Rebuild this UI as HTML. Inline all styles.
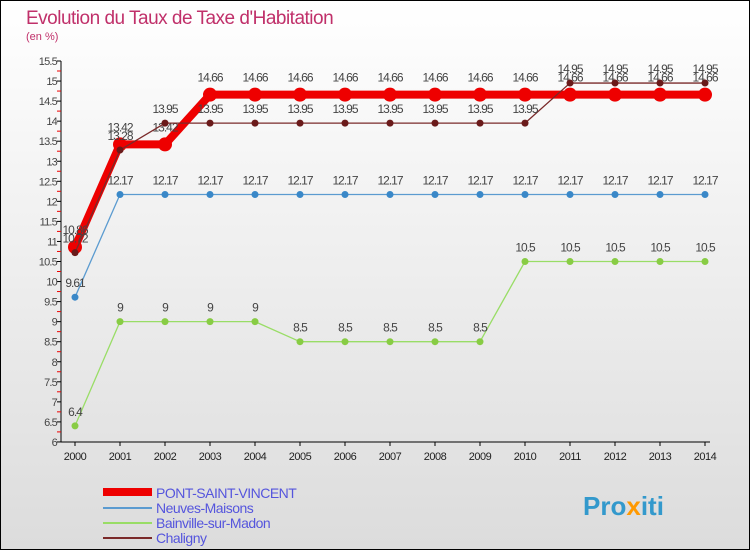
<!DOCTYPE html>
<html><head><meta charset="utf-8"><style>
body{margin:0;}
svg text{font-family:"Liberation Sans",sans-serif;}
</style></head><body>
<svg width="750" height="550" xmlns="http://www.w3.org/2000/svg">
<defs><linearGradient id="bg" x1="0" y1="0" x2="0" y2="1"><stop offset="0" stop-color="#ffffff"/><stop offset="1" stop-color="#dcdcdc"/></linearGradient></defs>
<rect x="0.5" y="0.5" width="749" height="549" fill="url(#bg)" stroke="#000"/>
<text x="26" y="24" font-size="19" fill="#c0306a" letter-spacing="-0.5">Evolution du Taux de Taxe d'Habitation</text>
<text x="26" y="40" font-size="11" fill="#c0306a">(en %)</text>
<g id="axes"></g><g id="series"></g>
<g>
<line x1="103" y1="492" x2="152" y2="492" stroke="#ee0000" stroke-width="8"/>
<text x="156" y="498" font-size="14" fill="#5555dd" letter-spacing="-0.5">PONT-SAINT-VINCENT</text>
<line x1="103" y1="508" x2="152" y2="508" stroke="#5b9bd0" stroke-width="2"/>
<text x="156" y="513" font-size="14" fill="#5555dd" letter-spacing="-0.5">Neuves-Maisons</text>
<line x1="103" y1="523" x2="152" y2="523" stroke="#99dd66" stroke-width="2"/>
<text x="156" y="528" font-size="14" fill="#5555dd" letter-spacing="-0.5">Bainville-sur-Madon</text>
<line x1="103" y1="538" x2="152" y2="538" stroke="#7a2a2a" stroke-width="2"/>
<text x="156" y="543" font-size="14" fill="#5555dd" letter-spacing="-0.5">Chaligny</text>
</g>
<text x="583" y="515" font-size="26" font-weight="bold" fill="#3399cc">Pro<tspan fill="#ff9900">x</tspan>iti</text>
</svg>
<script>
const years=[2000,2001,2002,2003,2004,2005,2006,2007,2008,2009,2010,2011,2012,2013,2014];
const yTicks=[6,6.5,7,7.5,8,8.5,9,9.5,10,10.5,11,11.5,12,12.5,13,13.5,14,14.5,15,15.5];
const psv=[10.86,13.42,13.42,14.66,14.66,14.66,14.66,14.66,14.66,14.66,14.66,14.66,14.66,14.66,14.66];
const neuves=[9.61,12.17,12.17,12.17,12.17,12.17,12.17,12.17,12.17,12.17,12.17,12.17,12.17,12.17,12.17];
const bainville=[6.4,9,9,9,9,8.5,8.5,8.5,8.5,8.5,10.5,10.5,10.5,10.5,10.5];
const chaligny=[10.72,13.28,13.95,13.95,13.95,13.95,13.95,13.95,13.95,13.95,13.95,14.95,14.95,14.95,14.95];
const NS="http://www.w3.org/2000/svg";
function X(i){return 75+i*45;}
function Y(v){return 61+(15.5-v)*40.1;}
function mk(t,a,p){const e=document.createElementNS(NS,t);for(const k in a)e.setAttribute(k,a[k]);p.appendChild(e);return e;}
const ax=document.getElementById('axes');
let l=mk('line',{x1:61,y1:Y(15.5),x2:61,y2:Y(6),stroke:'#000'},ax);


l=mk('line',{x1:61,y1:Y(6),x2:710,y2:Y(6),stroke:'#000'},ax);


yTicks.forEach(v=>{
 mk('line',{x1:57,y1:Y(v),x2:61,y2:Y(v),stroke:'#000'},ax);
 if(v>6) mk('line',{x1:57,y1:Y(v)+10,x2:61,y2:Y(v)+10,stroke:'#e00'},ax);
 const t=mk('text',{x:57,y:Y(v)+4,'font-size':11,fill:'#444','text-anchor':'end','letter-spacing':'-0.8'},ax);
 t.textContent=String(v);
 
 
});
years.forEach((y,i)=>{
 mk('line',{x1:X(i),y1:Y(6),x2:X(i),y2:Y(6)+4,stroke:'#000'},ax);
 const t=mk('text',{x:X(i),y:Y(6)+18,'font-size':11,fill:'#222','text-anchor':'middle','letter-spacing':'-0.5'},ax);
 t.textContent=String(y);
 
 
});
const sg=document.getElementById('series');
function series(name,vals,col,w,r,dot,off){
 const g=mk('g',{},sg);
 
 
 const ln=mk('polyline',{points:vals.map((v,i)=>X(i)+','+Y(v)).join(' '),fill:'none',stroke:col,'stroke-width':w,'stroke-linejoin':'round'},g);
 
 
 vals.forEach((v,i)=>{
  const c=mk('circle',{cx:X(i),cy:Y(v),r:r,fill:dot},g);
  
  
  const t=mk('text',{x:X(i),y:Y(v)-off,'font-size':12,fill:'#444','text-anchor':'middle','letter-spacing':'-1'},g);
  t.textContent=String(v);
  
  
 });
}
series('neuves-maisons',neuves,'#5b9bd0',1.3,3.5,'#3a88c8',10);
series('bainville',bainville,'#99dd66',1.3,3.5,'#88cc44',10);
series('pont-saint-vincent',psv,'#ee0000',8,7,'#ee0000',13);
series('chaligny',chaligny,'#7a2a2a',1.3,3.5,'#6a1a1a',10);
</script>
</body></html>
